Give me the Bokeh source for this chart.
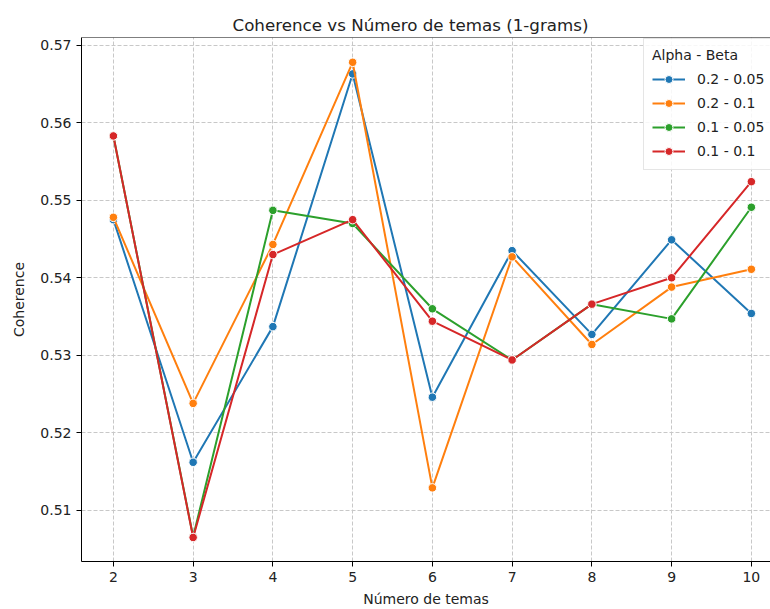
from bokeh.plotting import figure
from bokeh.models import (FixedTicker, PrintfTickFormatter, Range1d, Legend, LegendItem, Span)
from bokeh.embed import file_html
from bokeh.resources import INLINE

# ---- data ----
num_temas = [2, 3, 4, 5, 6, 7, 8, 9, 10]
series_labels = ["0.2 - 0.05", "0.2 - 0.1", "0.1 - 0.05", "0.1 - 0.1"]
coh_02_005 = [0.5475, 0.5162, 0.5337, 0.5663, 0.5246, 0.5435, 0.5327, 0.5449, 0.5354]
coh_02_01 = [0.5478, 0.5238, 0.5443, 0.5678, 0.5129, 0.5427, 0.5314, 0.5388, 0.5411]
coh_01_005 = [0.5583, 0.5066, 0.5487, 0.5470, 0.5360, 0.5294, 0.5366, 0.5347, 0.5491]
coh_01_01 = [0.5583, 0.5065, 0.5430, 0.5475, 0.5344, 0.5294, 0.5366, 0.5400, 0.5524]
x_ticks = [2, 3, 4, 5, 6, 7, 8, 9, 10]
y_ticks = [0.51, 0.52, 0.53, 0.54, 0.55, 0.56, 0.57]
colors = ["#1f77b4", "#ff7f0e", "#2ca02c", "#d62728"]

FONT = "DejaVu Sans"
TXT = "#222222"

p = figure(width=770, height=609, output_backend="svg", toolbar_location=None,
           x_range=Range1d(1.6, 10.24), y_range=Range1d(0.5034, 0.5710),
           min_border_left=81, min_border_right=0, min_border_top=37, min_border_bottom=48)

p.title.text = "Coherence vs Número de temas (1-grams)"
p.title.text_font = FONT
p.title.text_font_size = "16.7px"
p.title.text_font_style = "normal"
p.title.text_color = TXT
p.title.align = "left"
p.title.offset = 151
p.title.standoff = 6

p.outline_line_color = None
p.background_fill_color = "white"
p.border_fill_color = "white"

for ax in (p.xaxis[0], p.yaxis[0]):
    ax.axis_line_color = "black"
    ax.axis_line_width = 1
    ax.major_tick_line_color = "black"
    ax.major_tick_out = 5
    ax.major_tick_in = 0
    ax.minor_tick_line_color = None
    ax.major_label_text_font = FONT
    ax.major_label_text_font_size = "14px"
    ax.major_label_text_color = TXT
    ax.axis_label_text_font = FONT
    ax.axis_label_text_font_size = "14px"
    ax.axis_label_text_font_style = "normal"
    ax.axis_label_text_color = TXT

p.xaxis.ticker = FixedTicker(ticks=x_ticks)
p.yaxis.ticker = FixedTicker(ticks=y_ticks)
p.yaxis.formatter = PrintfTickFormatter(format="%.2f")
p.xaxis.axis_label = "Número de temas"
p.yaxis.axis_label = "Coherence"
p.xaxis.major_label_standoff = 5
p.yaxis.major_label_standoff = 5
p.xaxis.axis_label_standoff = 6
p.yaxis.axis_label_standoff = 10

for g in (p.xgrid[0], p.ygrid[0]):
    g.grid_line_color = "#c8c8c8"
    g.grid_line_dash = "4 2"
    g.grid_line_width = 1

# top spine (right one is cropped in the reference)
p.add_layout(Span(location=0.5710, dimension="width", line_color="black", line_width=1))

items = []
for label, ys, c in zip(series_labels, [coh_02_005, coh_02_01, coh_01_005, coh_01_01], colors):
    lr = p.line(num_temas, ys, line_color=c, line_width=2)
    sr = p.scatter(num_temas, ys, size=8.5, fill_color=c, line_color="white", line_width=1)
    items.append(LegendItem(label=label, renderers=[lr, sr]))

legend = Legend(items=items, location=(562, 391), title="Alpha - Beta",
                title_text_font=FONT, title_text_font_size="14px", title_text_font_style="normal",
                title_text_color=TXT, title_standoff=6,
                label_text_font=FONT, label_text_font_size="14px", label_text_color=TXT,
                glyph_width=33, glyph_height=20, label_height=20, spacing=4, label_standoff=12,
                padding=8, margin=0,
                background_fill_color="white", background_fill_alpha=0.85,
                border_line_color="#cccccc", border_line_width=1)
p.add_layout(legend, "center")

open("out.html", "w").write(file_html(p, INLINE))
